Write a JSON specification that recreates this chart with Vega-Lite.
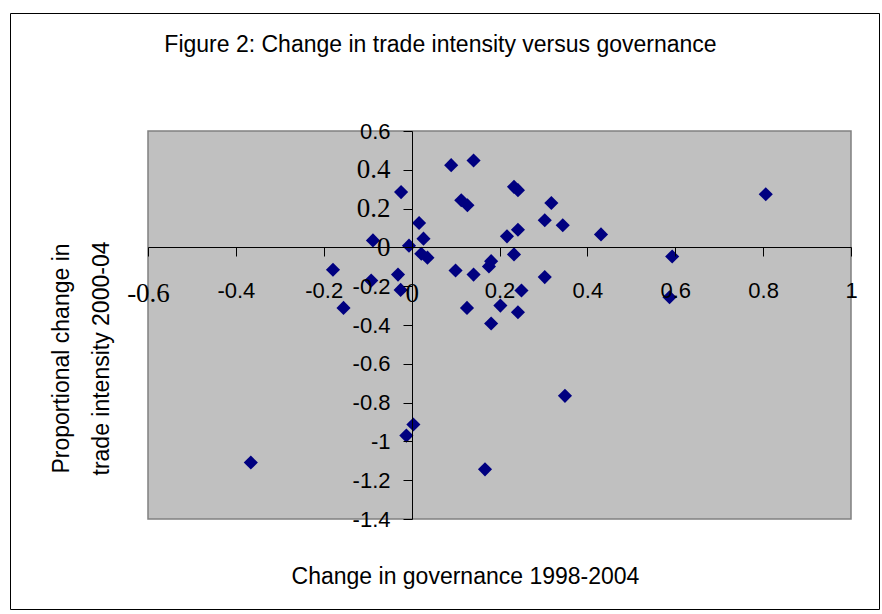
{
  "$schema": "https://vega.github.io/schema/vega-lite/v6.json",
  "width": 869,
  "height": 596,
  "autosize": {"type": "none"},
  "padding": {"left": 10, "top": 13, "right": 3, "bottom": 5},
  "background": "white",
  "config": {"view": {"stroke": "black", "strokeWidth": 1, "fill": "white"}},
  "title": {
    "text": "Figure 2: Change in trade intensity versus governance",
    "font": "Liberation Sans",
    "fontSize": 23,
    "fontWeight": "normal",
    "color": "black",
    "anchor": "middle",
    "offset": -55,
    "baseline": "middle",
    "dx": -4
  },
  "datasets": {
    "plotArea": [{"gov": -0.6, "gov2": 1, "trade": -1.4, "trade2": 0.6}],
    "points": [
      {"gov": -0.024, "trade": 0.285},
      {"gov": 0.017, "trade": 0.126},
      {"gov": 0.027, "trade": 0.045},
      {"gov": -0.006, "trade": 0.009},
      {"gov": 0.022, "trade": -0.033},
      {"gov": 0.036, "trade": -0.053},
      {"gov": -0.088, "trade": 0.036},
      {"gov": -0.179, "trade": -0.115},
      {"gov": -0.092, "trade": -0.171},
      {"gov": -0.031, "trade": -0.14},
      {"gov": -0.025, "trade": -0.219},
      {"gov": -0.155, "trade": -0.312},
      {"gov": 0.09, "trade": 0.424},
      {"gov": 0.141, "trade": 0.448},
      {"gov": 0.113, "trade": 0.243},
      {"gov": 0.127, "trade": 0.217},
      {"gov": 0.233, "trade": 0.312},
      {"gov": 0.242, "trade": 0.295},
      {"gov": 0.318, "trade": 0.229},
      {"gov": 0.303, "trade": 0.14},
      {"gov": 0.344, "trade": 0.114},
      {"gov": 0.431, "trade": 0.067},
      {"gov": 0.242, "trade": 0.091},
      {"gov": 0.217, "trade": 0.057},
      {"gov": 0.233, "trade": -0.036},
      {"gov": 0.593, "trade": -0.047},
      {"gov": 0.587, "trade": -0.257},
      {"gov": 0.1, "trade": -0.119},
      {"gov": 0.141, "trade": -0.14},
      {"gov": 0.181, "trade": -0.071},
      {"gov": 0.176, "trade": -0.098},
      {"gov": 0.303, "trade": -0.153},
      {"gov": 0.25, "trade": -0.222},
      {"gov": 0.126, "trade": -0.312},
      {"gov": 0.202, "trade": -0.3},
      {"gov": 0.242, "trade": -0.334},
      {"gov": 0.181, "trade": -0.392},
      {"gov": 0.806, "trade": 0.274},
      {"gov": -0.366, "trade": -1.109},
      {"gov": 0.004, "trade": -0.913},
      {"gov": -0.012, "trade": -0.97},
      {"gov": 0.167, "trade": -1.144},
      {"gov": 0.349, "trade": -0.765}
    ]
  },
  "encoding": {
    "x": {
      "field": "gov",
      "type": "quantitative",
      "scale": {"domain": [-0.6, 1], "range": [138, 841], "nice": false, "zero": false},
      "axis": {
        "orient": "bottom",
        "offset": -362,
        "values": [-0.6, -0.4, -0.2, 0, 0.2, 0.4, 0.6, 0.8, 1],
        "labelExpr": "'' + datum.value",
        "grid": false,
        "domainColor": "black",
        "domainWidth": 1,
        "tickColor": "black",
        "tickSize": 9,
        "tickWidth": 1,
        "labelPadding": 24,
        "labelFlush": false,
        "labelOverlap": false,
        "labelAngle": 0,
        "labelColor": "black",
        "labelFont": {"condition": {"test": "datum.value == 0 || datum.value == -0.6", "value": "Liberation Serif"}, "value": "Liberation Sans"},
        "labelFontSize": {"condition": {"test": "datum.value == 0 || datum.value == -0.6", "value": 27}, "value": 22},
        "title": "Change in governance 1998-2004",
        "titleFont": "Liberation Sans",
        "titleFontSize": 23,
        "titleFontWeight": "normal",
        "titleColor": "black",
        "titleX": 455,
        "titleY": 318,
        "titleAlign": "center",
        "titleBaseline": "top",
        "zindex": 1
      }
    },
    "y": {
      "field": "trade",
      "type": "quantitative",
      "scale": {"domain": [-1.4, 0.6], "range": [506, 118], "nice": false, "zero": false},
      "axis": {
        "orient": "left",
        "offset": -402,
        "values": [-1.4, -1.2, -1, -0.8, -0.6, -0.4, -0.2, 0, 0.2, 0.4, 0.6],
        "labelExpr": "'' + datum.value",
        "grid": false,
        "domainColor": "black",
        "domainWidth": 1,
        "tickColor": "black",
        "tickSize": 9,
        "tickWidth": 1,
        "labelPadding": 13,
        "labelFlush": false,
        "labelOverlap": false,
        "labelColor": "black",
        "labelFont": {"condition": {"test": "datum.value == 0 || datum.value == 0.2 || datum.value == 0.4", "value": "Liberation Serif"}, "value": "Liberation Sans"},
        "labelFontSize": {"condition": {"test": "datum.value == 0 || datum.value == 0.2 || datum.value == 0.4", "value": 27}, "value": 22},
        "title": ["Proportional change in", "trade intensity 2000-04"],
        "titleFont": "Liberation Sans",
        "titleFontSize": 23,
        "titleFontWeight": "normal",
        "titleColor": "black",
        "titleAngle": 270,
        "titleX": -362,
        "titleY": 345,
        "titleAlign": "center",
        "titleBaseline": "top",
        "titleLineHeight": 40,
        "zindex": 1
      }
    }
  },
  "layer": [
    {
      "data": {"name": "plotArea"},
      "mark": {"type": "rect", "fill": "#c0c0c0", "stroke": "#808080", "strokeWidth": 1.5},
      "encoding": {
        "x2": {"field": "gov2"},
        "y2": {"field": "trade2"}
      }
    },
    {
      "data": {"name": "points"},
      "mark": {"type": "point", "shape": "diamond", "filled": true, "size": 200, "color": "#000080", "opacity": 1, "strokeWidth": 0}
    }
  ]
}
